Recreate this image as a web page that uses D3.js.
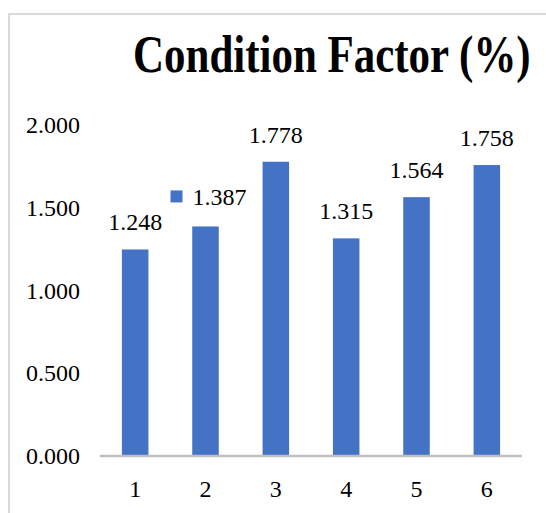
<!DOCTYPE html>
<html>
<head>
<meta charset="utf-8">
<script src="https://cdn.jsdelivr.net/npm/d3@7"></script>
<style>
    body { margin: 0; background: #fff; }
    svg { display: block; }
    text { font-family: "Liberation Serif", "Times New Roman", serif; fill: #000; }
</style>
</head>
<body>
<svg id="chart"></svg>
<script>
const categories = ['1', '2', '3', '4', '5', '6']
const values = [1.248, 1.387, 1.778, 1.315, 1.564, 1.758]
const yTicks = [0, 0.5, 1.0, 1.5, 2.0]
const chartTitle = 'Condition Factor (%)'

class ConditionChart {

    constructor(_config, _cats, _vals) {
        this.config = {
            parentElement: _config.parentElement,
            containerWidth: _config.containerWidth || 546,
            containerHeight: _config.containerHeight || 513,
            margin: { top: 125, right: 24, bottom: 57, left: 100 }
        }
        this.cats = _cats
        this.vals = _vals
        this.initVis()
    }

    initVis() {
        let vis = this

        vis.width = vis.config.containerWidth - vis.config.margin.left - vis.config.margin.right
        vis.height = 331

        vis.svg = d3.select(vis.config.parentElement)
            .attr('width', vis.config.containerWidth)
            .attr('height', vis.config.containerHeight)

        // frame of the chart area (only top and left edges are visible)
        vis.svg.append('path')
            .attr('d', `M9,${vis.config.containerHeight} V14 H${vis.config.containerWidth}`)
            .attr('fill', 'none')
            .attr('stroke', '#d9d9d9')
            .attr('stroke-width', 2)

        // title is narrower than the font's natural width, so squeeze it
        vis.svg.append('text')
            .attr('transform', 'translate(133, 72) scale(0.826, 1)')
            .style('font-size', '52px')
            .style('font-weight', 'bold')
            .text(chartTitle)

        vis.chart = vis.svg.append('g')
            .attr('transform', `translate(${vis.config.margin.left}, ${vis.config.margin.top})`)

        vis.xScale = d3.scaleBand()
            .domain(vis.cats)
            .range([0, vis.width])
            .paddingInner(0.623)
            .paddingOuter(0.3115)

        vis.yScale = d3.scaleLinear()
            .domain([0, 2])
            .range([vis.height, 0])

        vis.xAxis = d3.axisBottom(vis.xScale).tickSize(0).tickPadding(24)
        vis.yAxis = d3.axisLeft(vis.yScale)
            .tickValues(yTicks)
            .tickFormat(d3.format('.3f'))
            .tickSize(0)
            .tickPadding(20)

        vis.renderVis()
    }

    renderVis() {
        let vis = this
        const bw = vis.xScale.bandwidth()

        vis.chart.selectAll('.bar')
            .data(vis.vals)
            .join('rect')
                .attr('class', 'bar')
                .attr('fill', '#4472c4')
                .attr('x', (d, i) => vis.xScale(vis.cats[i]))
                .attr('width', bw)
                .attr('y', d => vis.yScale(d))
                .attr('height', d => vis.height - vis.yScale(d))

        // x baseline
        vis.chart.append('line')
            .attr('x1', 0)
            .attr('x2', vis.width)
            .attr('y1', vis.height)
            .attr('y2', vis.height)
            .attr('stroke', '#bfbfbf')
            .attr('stroke-width', 2.5)

        // data labels; the second one carries its legend key
        vis.chart.selectAll('.label')
            .data(vis.vals)
            .join('text')
                .attr('class', 'label')
                .attr('x', (d, i) => vis.xScale(vis.cats[i]) + bw / 2 + (i === 1 ? -13 : 0))
                .attr('y', (d, i) => vis.yScale(d) - (i === 1 ? 21 : 19))
                .attr('text-anchor', (d, i) => i === 1 ? 'start' : 'middle')
                .style('font-size', '24px')
                .text(d => d3.format('.3f')(d))

        vis.chart.append('rect')
            .attr('x', vis.xScale(vis.cats[1]) + bw / 2 - 35)
            .attr('y', vis.yScale(vis.vals[1]) - 36)
            .attr('width', 12)
            .attr('height', 12)
            .attr('fill', '#4472c4')

        vis.chart.append('g')
            .attr('transform', `translate(0, ${vis.height})`)
            .call(vis.xAxis)
            .call(g => g.select('.domain').remove())
            .selectAll('text')
                .style('font-size', '24px')
                .style('font-family', '"Liberation Serif", serif')
                .attr('fill', '#000')

        vis.chart.append('g')
            .call(vis.yAxis)
            .call(g => g.select('.domain').remove())
            .selectAll('text')
                .style('font-size', '24px')
                .style('font-family', '"Liberation Serif", serif')
                .attr('fill', '#000')
    }
}

new ConditionChart({ parentElement: '#chart' }, categories, values)
</script>
</body>
</html>
